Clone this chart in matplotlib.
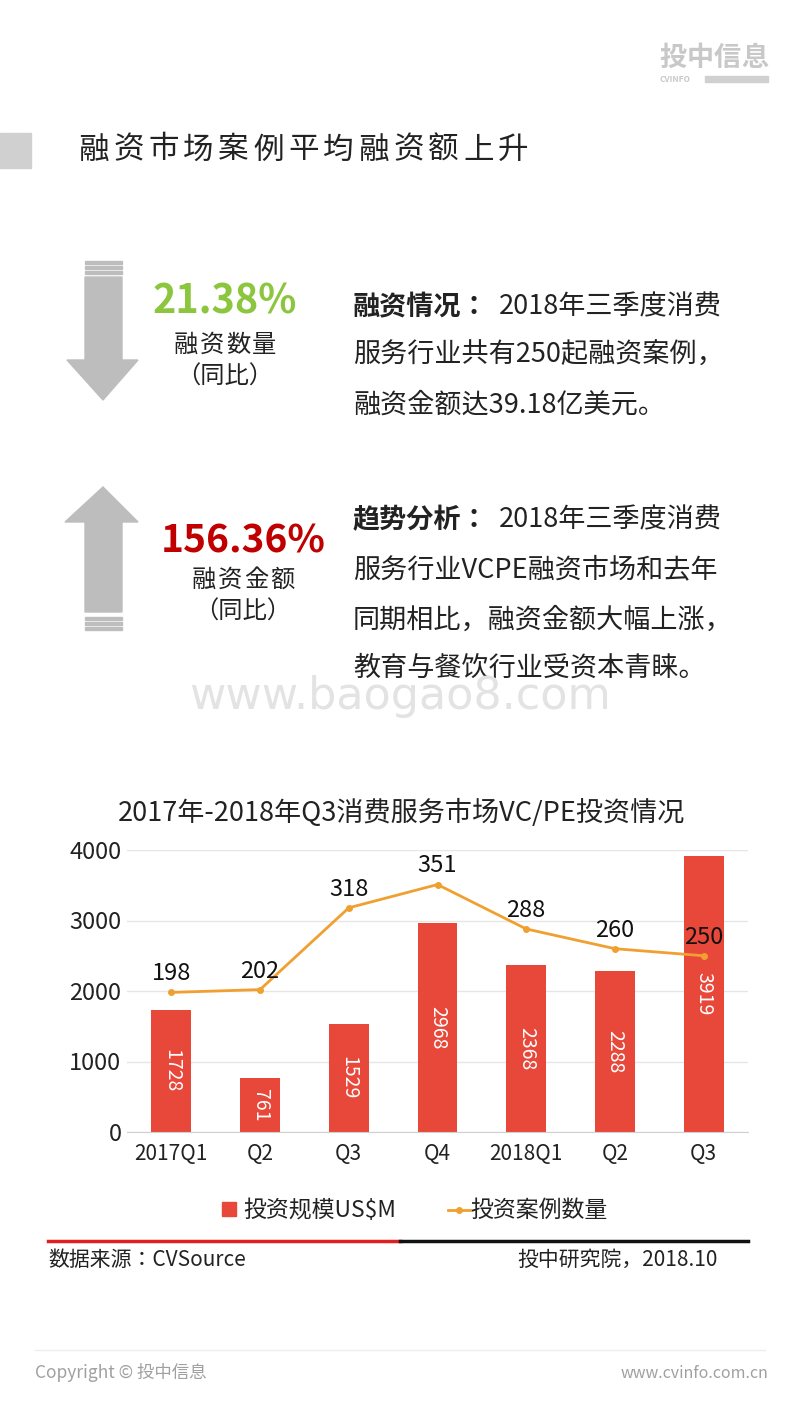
import matplotlib
matplotlib.use("Agg")
import matplotlib.pyplot as plt
from matplotlib.patches import Rectangle, Polygon

plt.rcParams["font.family"] = ["Noto Sans CJK JP", "DejaVu Sans"]

quarters = ["2017Q1", "Q2", "Q3", "Q4", "2018Q1", "Q2", "Q3"]
amounts = [1728, 761, 1529, 2968, 2368, 2288, 3919]
deals = [198, 202, 318, 351, 288, 260, 250]
y_ticks = [0, 1000, 2000, 3000, 4000]

W, H = 800, 1422
fig = plt.figure(figsize=(8, 14.22), dpi=100)
bg = fig.add_axes([0, 0, 1, 1])
bg.set_xlim(0, W); bg.set_ylim(H, 0); bg.axis("off")
renderer = fig.canvas.get_renderer()

def t(x, y, s, **kw):
    kw.setdefault("va", "center")
    return bg.text(x, y, s, **kw)

def spaced(x, y, s, track=0.0, ha="left", **kw):
    kw.setdefault("va", "center")
    items = []
    for ch in s:
        tx = bg.text(0, y, ch, **kw)
        items.append((tx, tx.get_window_extent(renderer).width))
    total = sum(w for _, w in items) + track * (len(items) - 1)
    cur = x - total / 2 if ha == "center" else (x - total if ha == "right" else x)
    for tx, w in items:
        tx.set_x(cur)
        cur += w + track

spaced(714, 58, "投中信息", ha="center", fontsize=19.5, color="#c8c8c8", fontweight="bold")
t(660, 79, "CVINFO", fontsize=6, color="#c8c8c8", fontweight="bold")
bg.add_patch(Rectangle((705, 76), 63, 6, color="#d0d0d0"))

bg.add_patch(Rectangle((0, 133), 31, 35, color="#d0d0d0"))
spaced(78, 150, "融资市场案例平均融资额上升", track=4.5, fontsize=22, color="#222222")

gray = "#bdbdbd"
for yy in (261, 266, 271):
    bg.add_patch(Rectangle((85, yy), 37, 2.5, color=gray))
bg.add_patch(Polygon([(85, 277), (122, 277), (122, 360), (138, 360), (103, 400),
                      (67, 360), (85, 360)], closed=True, color=gray))
bg.add_patch(Polygon([(103, 487), (138, 522), (122, 522), (122, 612), (85, 612),
                      (85, 522), (65, 522)], closed=True, color=gray))
for yy in (617, 622, 627):
    bg.add_patch(Rectangle((85, yy), 37, 2.5, color=gray))

t(225, 302, "21.38%", ha="center", fontsize=28.5, fontweight="bold", color="#8cc63f")
spaced(225, 345, "融资数量", track=2, ha="center", fontsize=17.5, color="#222222")
t(225, 377, "（同比）", ha="center", fontsize=17.5, color="#222222")
t(243, 541, "156.36%", ha="center", fontsize=28, fontweight="bold", color="#c00000")
spaced(243, 580, "融资金额", track=2, ha="center", fontsize=17.5, color="#222222")
t(243, 612, "（同比）", ha="center", fontsize=17.5, color="#222222")

fs = 19.5
bold = dict(fontsize=fs, fontweight="bold", color="#222222")
norm = dict(fontsize=fs, color="#222222")
t(353, 307, "融资情况：", **bold)
t(499, 307, "2018年三季度消费", **norm)
t(353, 355, "服务行业共有250起融资案例，", **norm)
t(353, 405, "融资金额达39.18亿美元。", **norm)
t(353, 520, "趋势分析：", **bold)
t(499, 520, "2018年三季度消费", **norm)
t(353, 570, "服务行业VCPE融资市场和去年", **norm)
t(353, 620, "同期相比，融资金额大幅上涨，", **norm)
t(353, 668, "教育与餐饮行业受资本青睐。", **norm)

t(400, 697, "www.baogao8.com", ha="center", fontsize=32, color="#e3e3e3", family="DejaVu Sans")

t(402, 813, "2017年-2018年Q3消费服务市场VC/PE投资情况", ha="center", fontsize=19.5, color="#222222")

ax = fig.add_axes([127 / W, 1 - 1132 / H, (748 - 127) / W, (1132 - 850) / H])
x = range(len(quarters))
ax.bar(x, amounts, width=0.45, color="#e8483a", zorder=2)
for i, v in enumerate(amounts):
    ax.text(i, v / 2, str(v), rotation=270, ha="center", va="center",
            color="white", fontsize=14)
ax.set_ylim(0, 4000)
ax.set_xlim(-0.5, len(quarters) - 0.5)
ax.set_yticks(y_ticks)
ax.set_yticklabels([str(v) for v in y_ticks], fontsize=17, color="#222222")
ax.set_xticks(list(x))
ax.set_xticklabels(quarters, fontsize=15, color="#222222")
ax.tick_params(axis="y", length=0, pad=4)
ax.tick_params(axis="x", length=0, pad=8)
ax.yaxis.grid(True, color="#e6e6e6", lw=1, zorder=0)
for s in ("top", "right", "left"):
    ax.spines[s].set_visible(False)
ax.spines["bottom"].set_color("#d0d0d0")

ax2 = ax.twinx()
ax2.set_ylim(0, 400)
ax2.plot(list(x), deals, color="#f0a030", lw=2, marker="o", ms=4, zorder=3)
for i, v in enumerate(deals):
    ax2.text(i, v + 10, str(v), ha="center", va="bottom", fontsize=17, color="#111111")
ax2.axis("off")

bg.add_patch(Rectangle((222, 1202), 14, 14, color="#e8483a"))
t(243, 1210, "投资规模US$M", fontsize=16.5, color="#222222")
bg.plot([448, 470], [1210, 1210], color="#f0a030", lw=2)
bg.plot([459], [1210], "o", color="#f0a030", ms=4)
t(470, 1210, "投资案例数量", fontsize=16.5, color="#222222")

bg.plot([48, 400], [1241, 1241], color="#e02020", lw=2.5)
bg.plot([400, 748], [1241, 1241], color="#111111", lw=2.5)
t(48, 1260, "数据来源：CVSource", fontsize=15, color="#222222")
t(718, 1260, "投中研究院，2018.10", ha="right", fontsize=15, color="#222222")

bg.plot([35, 765], [1350, 1350], color="#eeeeee", lw=1)
t(35, 1373, "Copyright © 投中信息", fontsize=12.5, color="#a0a0a0")
t(768, 1373, "www.cvinfo.com.cn", ha="right", fontsize=11.5, color="#a0a0a0")

fig.savefig("out.png", dpi=100)
